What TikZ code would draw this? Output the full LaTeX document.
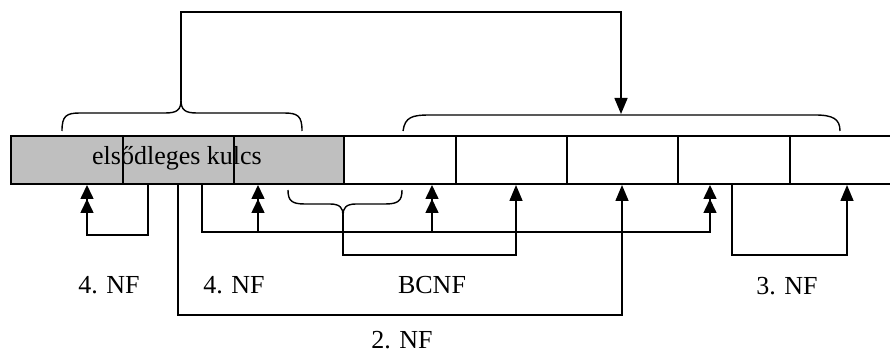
\documentclass[tikz,border=0pt]{standalone}
\usepackage{fontspec}
\setmainfont{Liberation Serif}
\usetikzlibrary{arrows.meta}
\begin{document}
\begin{tikzpicture}[x=1pt,y=-1pt,
  cell/.style={draw, line width=2pt, minimum height=48pt, inner sep=0pt, anchor=north west},
  con/.style={line width=1.6pt},
  arr/.style={con, -{Triangle[width=13pt,length=16pt]}},
  darr/.style={con, -{Triangle[width=13pt,length=14pt] Triangle[width=13pt,length=14pt]}},
  brace/.style={line width=1.4pt},
  lbl/.style={font=\fontsize{26}{30}\selectfont, inner sep=0pt}]
\useasboundingbox (0,0) rectangle (890,355);
% grey key area
\fill[gray!50] (10,135) rectangle (343,183);
\node[lbl] (key) at (177,158) {elsődleges kulcs};
% cells
\node[cell, minimum width=112pt] (c1) at (10,135) {};
\node[cell, minimum width=111pt] (c2) at (122,135) {};
\node[cell, minimum width=110pt] (c3) at (233,135) {};
\node[cell, minimum width=112pt] (c4) at (343,135) {};
\node[cell, minimum width=111pt] (c5) at (455,135) {};
\node[cell, minimum width=111pt] (c6) at (566,135) {};
\node[cell, minimum width=112pt] (c7) at (677,135) {};
\node[cell, minimum width=130pt] (c8) at (789,135) {};
% braces
\coordinate (tipL) at (181,100);
\draw[brace] (62,131) .. controls (62,116) and (66,113) .. (80,113) -- (165,113) .. controls (177,113) and (181,110) .. (tipL);
\draw[brace] (302,131) .. controls (302,116) and (298,113) .. (284,113) -- (197,113) .. controls (185,113) and (181,110) .. (tipL);
\draw[brace] (403,131) .. controls (405,117) and (412,115) .. (430,115) -- (815,115) .. controls (833,115) and (840,119) .. (840,131);
\coordinate (tipB) at (343,215);
\draw[brace] (288,190) .. controls (288,201) and (292,204) .. (305,204) -- (330,204) .. controls (340,204) and (343,208) .. (tipB);
\draw[brace] (402,190) .. controls (402,201) and (398,204) .. (385,204) -- (356,204) .. controls (346,204) and (343,208) .. (tipB);
% coordinates on the bar
\coordinate (topR) at (621,114);
\coordinate (k1) at (181,12);
\coordinate (k2) at (621,12);
\coordinate (s148) at (148,184);
\coordinate (a87) at (87,185);
\coordinate (s178) at (178,184);
\coordinate (a622) at (622,185);
\coordinate (s202) at (202,184);
\coordinate (a710) at (710,185);
\coordinate (j258) at (258,232);
\coordinate (a258) at (258,185);
\coordinate (j432) at (432,232);
\coordinate (a432) at (432,185);
\coordinate (a516) at (516,185);
\coordinate (s732) at (732,184);
\coordinate (a847) at (847,185);
% connectors
\draw[arr] (tipL) -- (k1) -- (k2) -- (topR);
\draw[darr] (s148) -- ++(0,51) -| (a87);
\draw[arr] (s178) -- ++(0,131) -| (a622);
\draw[darr] (s202) -- ++(0,48) -| (a710);
\draw[darr] (j258) -- (a258);
\draw[darr] (j432) -- (a432);
\draw[arr] (tipB) -- ++(0,40) -| (a516);
\draw[arr] (s732) -- ++(0,71) -| (a847);
% labels
\node[lbl] (n1) at (109,285) {4. NF};
\node[lbl] (n2) at (234,285) {4. NF};
\node[lbl] (n3) at (432,285) {BCNF};
\node[lbl] (n4) at (787,286) {3. NF};
\node[lbl] (n5) at (402,340) {2. NF};
\end{tikzpicture}
\end{document}
